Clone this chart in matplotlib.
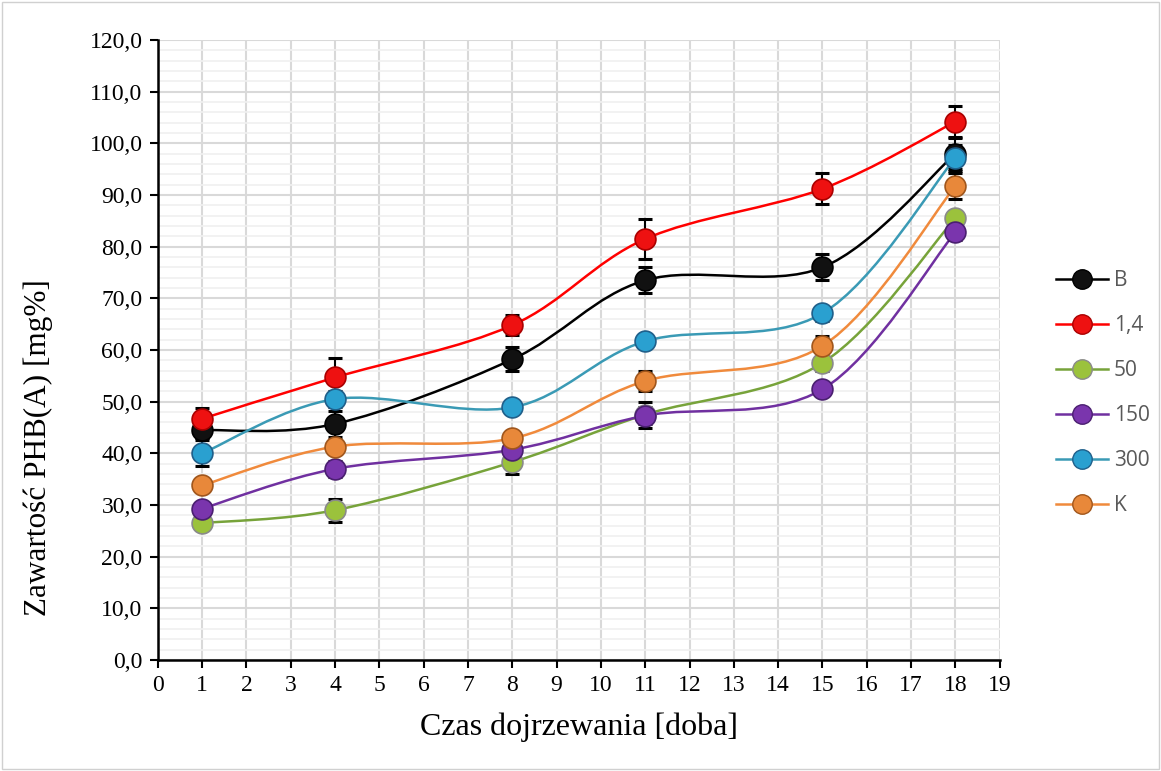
import numpy as np
import matplotlib.pyplot as plt
from matplotlib.path import Path
from matplotlib.patches import PathPatch, Rectangle
from matplotlib.lines import Line2D

# dane
dni = [1, 4, 8, 11, 15, 18]
serie = ['B', '1,4', '50', '150', '300', 'K']
B = [44.5, 45.7, 58.2, 73.5, 76.0, 98.0]
B_err = [1.5, 2.5, 2.3, 2.5, 2.5, 3.0]
r14 = [46.7, 54.7, 64.8, 81.5, 91.2, 104.2]
r14_err = [2.0, 3.8, 1.9, 3.8, 3.0, 3.0]
r50 = [26.5, 29.0, 38.3, 47.5, 57.5, 85.5]
r50_err = [1.3, 2.2, 2.3, 2.5, 1.5, 1.5]
r150 = [29.3, 37.0, 40.7, 47.3, 52.4, 82.8]
r150_err = [1.0, 1.5, 1.5, 1.7, 1.0, 1.5]
r300 = [40.0, 50.5, 48.9, 61.7, 67.1, 97.2]
r300_err = [2.5, 1.5, 1.0, 1.0, 1.5, 2.5]
K = [33.8, 41.3, 42.9, 54.0, 60.8, 91.7]
K_err = [1.0, 1.0, 1.5, 2.0, 2.0, 2.5]

wartosci = [B, r14, r50, r150, r300, K]
bledy = [B_err, r14_err, r50_err, r150_err, r300_err, K_err]
kolory_linii = ['#000000', '#ff0000', '#77a33a', '#7030a0', '#3a9ab5', '#f08a3c']
kolory_kul = ['#111111', '#ee1111', '#9bc23c', '#7a35ad', '#2aa0d0', '#e8883a']
krawedzie = ['#000000', '#aa0000', '#8a8a8a', '#4a1f70', '#1f5f8a', '#a0561c']


def sciezka_gladka(x, y):
    # krzywa Beziera jak "wygładzona linia" w Excelu
    x = np.asarray(x, float)
    y = np.asarray(y, float)
    n = len(x)
    verts = [(x[0], y[0])]
    codes = [Path.MOVETO]
    for i in range(n - 1):
        x0, y0 = (x[i - 1], y[i - 1]) if i > 0 else (x[i], y[i])
        x3, y3 = (x[i + 2], y[i + 2]) if i + 2 < n else (x[i + 1], y[i + 1])
        c1 = (x[i] + (x[i + 1] - x0) / 6, y[i] + (y[i + 1] - y0) / 6)
        c2 = (x[i + 1] - (x3 - x[i]) / 6, y[i + 1] - (y3 - y[i]) / 6)
        verts += [c1, c2, (x[i + 1], y[i + 1])]
        codes += [Path.CURVE4] * 3
    return Path(verts, codes)


fig = plt.figure(figsize=(11.61, 7.71), dpi=100)
ax = fig.add_axes([0.136, 0.144, 0.725, 0.804])

for wart, err, kl, kk, ke in zip(wartosci, bledy, kolory_linii, kolory_kul, krawedzie):
    ax.add_patch(PathPatch(sciezka_gladka(dni, wart), facecolor='none',
                           edgecolor=kl, lw=1.8, zorder=3))
    ax.errorbar(dni, wart, yerr=err, fmt='none', ecolor='black', elinewidth=1.5,
                capsize=5, capthick=2.2, zorder=4)
    ax.plot(dni, wart, 'o', ms=15, mfc=kk, mec=ke, mew=1.2, zorder=5)

ax.set_xlim(0, 19)
ax.set_ylim(0, 120)
ax.set_xticks(range(0, 20))
ax.set_yticks(np.arange(0, 121, 10))
ax.set_yticks(np.arange(0, 121, 2), minor=True)
ax.set_yticklabels([f'{v:.1f}'.replace('.', ',') for v in np.arange(0, 121, 10)])
ax.tick_params(axis='y', which='minor', length=0)
ax.tick_params(axis='both', which='major', direction='out', length=6, width=1.5,
               labelsize=17, pad=5)
for lab in ax.get_xticklabels() + ax.get_yticklabels():
    lab.set_fontfamily('Liberation Serif')

ax.grid(True, which='major', color='#d9d9d9', lw=1.5, zorder=0)
ax.grid(True, which='minor', axis='y', color='#f0f0f0', lw=1.2, zorder=0)
ax.set_axisbelow(True)
for s in ['top', 'right']:
    ax.spines[s].set_visible(False)
for s in ['left', 'bottom']:
    ax.spines[s].set_linewidth(1.8)

ax.set_xlabel('Czas dojrzewania [doba]', fontsize=23, family='Liberation Serif')
ax.xaxis.set_label_coords(0.5, -0.085)
ax.set_ylabel('Zawartość PHB(A) [mg%]', fontsize=22.5, family='Liberation Serif')
ax.yaxis.set_label_coords(-0.125, 0.343)

uchwyty = [Line2D([0], [0], color=kl, lw=1.8, marker='o', ms=14, mfc=kk, mec=ke)
           for kl, kk, ke in zip(kolory_linii, kolory_kul, krawedzie)]
leg = fig.legend(uchwyty, serie, loc='center left', bbox_to_anchor=(0.893, 0.49),
                 frameon=False, labelspacing=1.15, handlelength=2.5,
                 handletextpad=0.3, prop={'family': 'Open Sans', 'size': 15})
for t in leg.get_texts():
    t.set_color('#595959')

fig.patches.append(Rectangle((0.002, 0.003), 0.996, 0.994, transform=fig.transFigure,
                             fill=False, edgecolor='#d0d0d0', lw=1))

plt.savefig('out.png', dpi=100)
